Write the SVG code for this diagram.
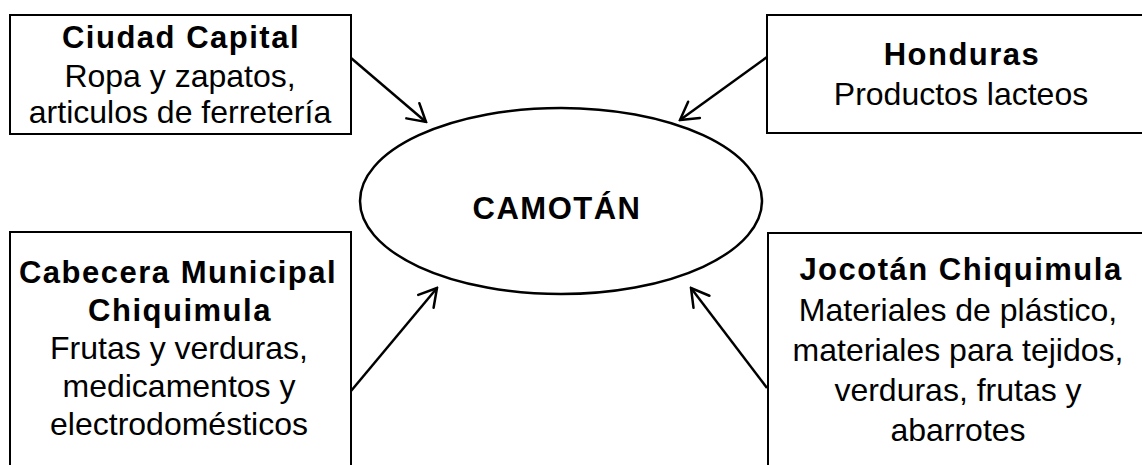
<svg xmlns="http://www.w3.org/2000/svg" width="1142" height="465" viewBox="0 0 1142 465">
<style>
.box{fill:#fff;stroke:#000;stroke-width:2}
.b{font-family:"Liberation Sans",Arial,sans-serif;font-weight:bold;font-size:31px;letter-spacing:1.5px;text-anchor:middle;fill:#000}
.r{font-family:"Liberation Sans",Arial,sans-serif;font-size:32px;text-anchor:middle;fill:#000}
.conn{stroke:#000;stroke-width:2.5;fill:none;marker-end:url(#arr)}
</style>
<defs>
<marker id="arr" markerUnits="userSpaceOnUse" viewBox="-20 -12 22 24" refX="0" refY="0" markerWidth="22" markerHeight="24" orient="auto">
<path d="M-17.3,-10 L0,0 L-17.3,10" fill="none" stroke="#000" stroke-width="2.5" stroke-linecap="round" stroke-linejoin="miter"/>
</marker>
</defs>
<rect width="1142" height="465" fill="#fff"/>
<g id="camotan">
<ellipse cx="561" cy="201" rx="201" ry="93" fill="#fff" stroke="#000" stroke-width="2.5"/>
<text class="b" x="557" y="219">CAMOTÁN</text>
</g>
<g id="ciudad-capital">
<rect class="box" x="10" y="15" width="341" height="119"/>
<text class="b" x="181" y="48">Ciudad Capital</text>
<text class="r" x="180" y="87">Ropa y zapatos,</text>
<text class="r" x="180" y="123">articulos de ferretería</text>
</g>
<g id="honduras">
<rect class="box" x="767" y="15" width="400" height="118"/>
<text class="b" x="962" y="65">Honduras</text>
<text class="r" x="961" y="105">Productos lacteos</text>
</g>
<g id="cabecera">
<rect class="box" x="10" y="232" width="341" height="260"/>
<text class="b" x="178" y="283">Cabecera Municipal</text>
<text class="b" x="180" y="321">Chiquimula</text>
<text class="r" x="179" y="359">Frutas y verduras,</text>
<text class="r" x="179" y="397">medicamentos y</text>
<text class="r" x="179" y="435">electrodomésticos</text>
</g>
<g id="jocotan">
<rect class="box" x="768" y="233" width="400" height="260"/>
<text class="b" x="961" y="280">Jocotán Chiquimula</text>
<text class="r" x="958" y="321">Materiales de plástico,</text>
<text class="r" x="958" y="361">materiales para tejidos,</text>
<text class="r" x="958" y="401">verduras, frutas y</text>
<text class="r" x="958" y="441">abarrotes</text>
</g>
<g id="connectors">
<line class="conn" x1="351" y1="58" x2="426" y2="122"/>
<line class="conn" x1="767" y1="57" x2="680" y2="120"/>
<line class="conn" x1="351" y1="391" x2="437" y2="288"/>
<line class="conn" x1="767" y1="388" x2="691" y2="288"/>
</g>
</svg>
